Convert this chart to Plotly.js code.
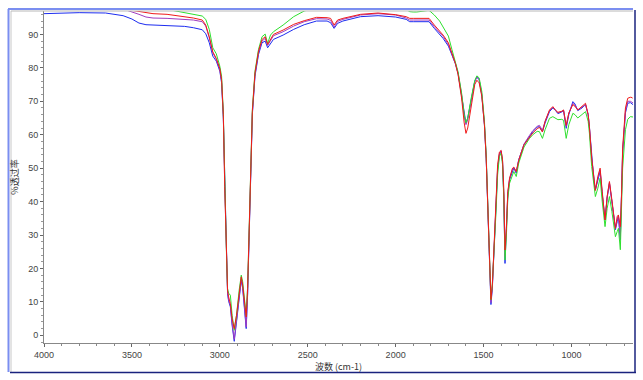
<!DOCTYPE html>
<html>
<head>
<meta charset="utf-8">
<script src="https://cdn.plot.ly/plotly-3.0.1.min.js"></script>
<style>html,body{margin:0;padding:0;background:#fff;}#chart{width:643px;height:380px;}</style>
</head>
<body>
<div id="chart"></div>
<script>
// wavenumbers (cm-1)
const wavenumber = [4000,3800,3650,3550,3500,3460,3420,3380,3300,3250,3200,3150,3100,3080,3060,3040,3020,3000,2990,2980,2972,2962,2956,2950,2940,2930,2918,2905,2890,2878,2870,2858,2850,2842,2836,2828,2815,2800,2780,2760,2742,2728,2712,2695,2640,2580,2520,2450,2390,2370,2350,2340,2330,2300,2200,2100,2000,1940,1920,1900,1880,1810,1780,1750,1730,1700,1680,1660,1645,1625,1610,1600,1590,1570,1550,1538,1525,1510,1495,1485,1475,1466,1458,1450,1440,1430,1420,1410,1400,1392,1385,1378,1370,1362,1352,1335,1328,1314,1300,1270,1240,1220,1195,1182,1165,1150,1125,1106,1090,1077,1055,1045,1030,1015,992,980,964,940,920,905,898,885,872,864,850,837,825,809,797,784,770,750,740,733,722,715,709,693,680,665,655,650];

const blue = [96.2,96.5,96.4,95.6,94.6,93.4,92.9,92.8,92.6,92.5,92.4,92.0,91.4,90.2,87.5,83.5,82.0,79.0,75.5,65,44,22.5,12.5,10.2,8.5,3,-1.8,4,12,16.5,14,6,2,12,25,43,66,77.5,84,87.5,88.0,86.0,87.3,88.5,89.8,91.5,92.9,94.0,94.0,93.5,91.8,92.5,93.3,94.0,95.3,95.6,95.2,94.5,93.8,93.8,93.8,93.8,91.8,90,88.8,86.5,84,81.2,78.3,72,66,63.4,65,71,76,77.3,76.5,72,63,53,37,20,9.2,14,25,38,49.5,54,55,52,42,21.5,30,42,46.5,49.5,50,48.5,52.5,57,59.5,60.9,62.3,62.4,60.9,63.5,66.9,68,67.2,66.3,66.8,67.2,61.9,66,69.9,69.2,67.2,68,69,66,62.4,53,46,43.5,46.5,49,42,34.5,41,45.5,40,31.6,34,35.5,28.6,40,54.5,66.5,69.4,69.6,69.3,69];

const purple = [98,98,98,97.6,96.8,96.0,95.2,94.9,94.8,94.7,94.6,94.3,93.8,92.5,89.0,84.5,82.6,79.5,76,65.5,44.5,23,13,10.5,9,3.5,-1.2,4.5,12.5,17,14.5,6.5,2.5,12.5,25.5,43.5,66.5,78,84.5,88,88.8,86.7,88.3,89.6,90.8,92.5,93.8,94.7,94.6,94.2,92.2,93.0,93.9,94.5,95.8,96.2,95.8,94.9,94.3,94.3,94.3,94.3,92.3,90.5,89.4,87,84.2,81.3,78.5,72,65.5,63,64.5,70.5,75.8,77.2,76.4,72,63,53,37,20.5,9.8,14.5,25,38.5,50,54.3,55.2,52,42,23.5,31,42.5,46.8,49.8,50.2,48.8,52.5,57.2,59.7,61.2,62.5,62.8,61.3,64,67.2,68.2,67.3,66.5,67,67.3,62.5,66.5,69.4,68.8,67.4,68.2,69,66,62.4,53,46,43.5,47,49.5,42.5,34.5,41.5,45.7,40,32,34.5,35.8,29,40.5,55,67,70,70,69.6,69.5];

const red = [98,98,98,97.8,97.2,96.8,96.4,96.2,96.0,95.7,95.3,94.9,94.3,92.8,89.3,84.8,82.8,79.8,76.5,66,44.5,23.5,13.5,11.5,9.5,5,2,6,13,17.5,15,8,5.5,14,26,44,67,78.5,85,88.5,89.3,87.0,88.7,90.0,91.3,93.0,94.1,95.1,95.0,94.8,92.8,93.5,94.3,94.8,96.0,96.4,95.9,95.3,94.8,94.8,94.8,94.8,92.8,91,89.8,87.5,84.3,81.3,78,71,63.5,60.4,62,69,75,76.3,75.5,71.5,63,53,38,21.5,10.7,15,26,40,51,54.8,55.3,52.5,44,25.5,32,43,47,50,50.3,49,52.3,57,59.3,60.5,61.8,62.2,60.8,64,67.4,68.4,67.3,66.7,67,67.4,62.8,66.5,69,68.5,67.4,68.5,69.4,66,62.4,53,45.5,43.3,47.5,50,43,34.5,41.5,46,40.5,32,35.5,36,32.5,42,56,68,70.9,71.2,71.1,70.8];

const green = [98,98,98,98,98,98,98,98,97.5,97.0,96.6,96.0,95.5,94.5,91.5,86.0,84.2,80.5,77.5,66.5,45,24,14,12.6,12,6,1.5,6,13.5,18,16,9,6,14.5,27,44.5,67.5,79,85.5,89.3,90.1,87.3,89.8,90.8,92.8,95.3,97,98,98,98,98,98,98,98,98,98,98,97.5,96.8,96.7,96.7,97.2,95.8,94,92.3,89.5,85.5,81.5,78.8,72.5,66,63.6,65,71,76.2,77.6,77,73,64,54,39,22.5,10.6,15.5,24,36,48,53.5,54.5,51,41,22.5,30,41,45.5,48.5,49,47.5,51.5,56.3,58.8,60,61,60.9,58.9,61.5,64.9,65.4,65,64.5,64.6,64.3,58.9,63,66.4,66,65,66,66.9,64,60.5,50.5,43.5,41.5,44,47,40,32.5,38,41.5,37,29.5,31,32,25.6,36,50,61.5,64.6,65.4,65.2,65.3];

const yTickVals = [0,10,20,30,40,50,60,70,80,90];
const xTickVals = [4000,3500,3000,2500,2000,1500,1000];
const xTitle = '波数 (cm-1)';
const yTitle = '%透过率';

const series = [
  {name:'blue', y: blue, color:'#1c2cf0'},
  {name:'purple', y: purple, color:'#a03cc0'},
  {name:'green', y: green, color:'#2ee02e'},
  {name:'red', y: red, color:'#f01a1a'}
];

const traces = series.map(s => ({
  type:'scatter', mode:'lines', x: wavenumber, y: s.y, name: s.name,
  line:{color:s.color, width:1}, hoverinfo:'skip'
}));

const W = 643, H = 380, L = 44, R = 633, T = 11, B = 343;
const px = v => (v - L) / (R - L);
const py = v => (B - v) / (B - T);
const line = (x0,y0,x1,y1,color,w) => ({type:'line', xref:'paper', yref:'paper',
  x0:px(x0), y0:py(y0), x1:px(x1), y1:py(y1), line:{color:color, width:w}});

const tickFont = {family:'Liberation Sans Narrow, Liberation Sans, Arial, sans-serif', size:9, color:'#444'};

const layout = {
  width: W, height: H,
  margin:{l:L, r:W-R, t:T, b:H-B, pad:0},
  paper_bgcolor:'#ffffff', plot_bgcolor:'#ffffff',
  showlegend:false,
  xaxis:{
    range:[4000,650], tickvals:xTickVals, ticktext:xTickVals.map(String),
    ticks:'outside', ticklen:3, tickcolor:'#666', tickwidth:1,
    minor:{dtick:100, tick0:0, ticks:'outside', ticklen:2, tickcolor:'#888'},
    showline:true, linecolor:'#888', linewidth:1, showgrid:false, zeroline:false,
    tickfont:tickFont, automargin:false,
    title:{text:xTitle, standoff:2, font:{family:'Noto Sans CJK SC, Liberation Sans, sans-serif', size:9, color:'#333'}}
  },
  yaxis:{
    range:[-2.3,97], tickvals:yTickVals, ticktext:yTickVals.map(String),
    ticks:'outside', ticklen:3, tickcolor:'#666', tickwidth:1,
    minor:{dtick:2, tick0:0, ticks:'outside', ticklen:2, tickcolor:'#999'},
    showline:true, linecolor:'#888', linewidth:1, showgrid:false, zeroline:false,
    tickfont:tickFont, automargin:false,
    title:{text:yTitle, standoff:8, font:{family:'Noto Sans CJK SC, Liberation Sans, sans-serif', size:9, color:'#333'}}
  },
  shapes:[
    line(8.5,9,8.5,372,'#7b8ef0',2),
    line(8,9,633,9,'#7b8ef0',2),
    line(11,11,11,372,'#c8c8c8',1),
    line(11,11,633,11,'#b8b8b8',1),
    line(635,10,635,373,'#1a237e',1.5),
    line(10,372.5,636,372.5,'#1a237e',1.5)
  ]
};

Plotly.newPlot('chart', traces, layout, {staticPlot:true, displayModeBar:false});
</script>
</body>
</html>
